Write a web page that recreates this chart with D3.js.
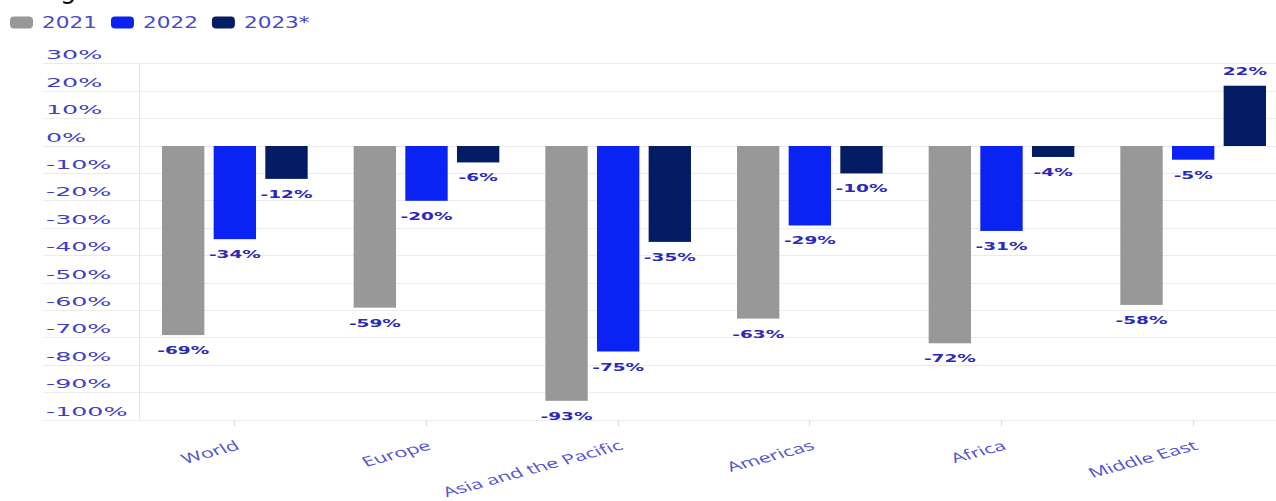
<!DOCTYPE html>
<html>
<head>
<meta charset="utf-8">
<script src="https://cdn.jsdelivr.net/npm/d3@7"></script>
<style>
  html, body { margin: 0; padding: 0; background: #ffffff; }
  svg { display: block; }
</style>
</head>
<body>
<div id="chart"></div>
<script>
// values
var regions = ["World", "Europe", "Asia and the Pacific", "Americas", "Africa", "Middle East"];
var years = ["2021", "2022", "2023*"];
var v2021 = [-69, -59, -93, -63, -72, -58];
var v2022 = [-34, -20, -75, -29, -31, -5];
var v2023 = [-12, -6, -35, -10, -4, 22];
var yTicks = [30, 20, 10, 0, -10, -20, -30, -40, -50, -60, -70, -80, -90, -100];

var cols = {"2021": "#989898", "2022": "#0a22f2", "2023*": "#031c64"};
var series = {"2021": v2021, "2022": v2022, "2023*": v2023};

var W = 1276, H = 501;
var svg = d3.select("#chart").append("svg").attr("width", W).attr("height", H);

// the source picture is squashed vertically, so text gets a horizontal stretch
function stretched(g, x, y, sx, rot){
	return g.append("text")
		.attr("transform", "translate(" + x + "," + y + ") scale(" + sx + ",1)" + (rot ? " rotate(" + rot + ")" : ""));
}

// cropped title remnant at the very top
svg.append("text").attr("x", 60).attr("y", -2).text("g")
	.style("font-family", "DejaVu Sans").style("font-size", "26px").style("fill", "#111");

var x0 = d3.scaleBand().domain(regions).range([139, 1289]).paddingInner(0.24).paddingOuter(0.12);
var x1 = d3.scaleBand().domain(years).range([0, x0.bandwidth()]).paddingInner(0.18);
var y = d3.scaleLinear().domain([-100, 30]).range([420, 63.8]);

//grid lines
svg.selectAll("line.grid").data(yTicks).enter().append("line").classed("grid", true)
	.attr("x1", 43).attr("x2", W)
	.attr("y1", function(d){ return y(d); }).attr("y2", function(d){ return y(d); })
	.attr("stroke", "#ebebeb").attr("stroke-width", 1)
	.style("shape-rendering", "crispEdges");

svg.append("line").attr("x1", 139).attr("x2", 139).attr("y1", y(30)).attr("y2", y(-100))
	.attr("stroke", "#e4e4e4").style("shape-rendering", "crispEdges");

//category ticks
svg.selectAll("line.xtick").data(regions).enter().append("line").classed("xtick", true)
	.attr("x1", function(d){ return x0(d) + x0.bandwidth() / 2; })
	.attr("x2", function(d){ return x0(d) + x0.bandwidth() / 2; })
	.attr("y1", y(-100)).attr("y2", y(-100) + 6)
	.attr("stroke", "#dddddd").style("shape-rendering", "crispEdges");

//y tick labels
var yl = svg.append("g");
yTicks.forEach(function(t){
	stretched(yl, 46, y(t) - 4.5, 1.95)
		.text(t + "%")
		.style("font-family", "DejaVu Sans").style("font-size", "13px")
		.style("fill", "#3e3ec4");
});

//bars
var groups = svg.selectAll("g.region").data(regions).enter().append("g").classed("region", true)
	.attr("transform", function(d){ return "translate(" + x0(d) + ",0)"; });

var bars = groups.selectAll("rect").data(function(d, i){
	return years.map(function(yr){ return {year: yr, value: series[yr][i]}; });
}).enter().append("rect")
	.attr("x", function(d){ return x1(d.year); })
	.attr("width", x1.bandwidth())
	.attr("y", function(d){ return y(Math.max(0, d.value)); })
	.attr("height", function(d){ return Math.abs(y(d.value) - y(0)); })
	.attr("fill", function(d){ return cols[d.year]; });

//value labels
groups.each(function(r, i){
	var g = d3.select(this);
	years.forEach(function(yr){
		var v = series[yr][i];
		var cx = x1(yr) + x1.bandwidth() / 2;
		var ty = v >= 0 ? y(v) - 10.5 : y(v) + 19;
		stretched(g, cx, ty, 1.85)
			.attr("text-anchor", "middle")
			.text(v + "%")
			.style("font-family", "DejaVu Sans").style("font-weight", "bold").style("font-size", "10px")
			.style("fill", "#2a2ab8");
	});
});

//category labels
var xl = svg.append("g");
regions.forEach(function(r){
	stretched(xl, x0(r) + x0.bandwidth() / 2 + 6, 449, 1.6, -23.5)
		.attr("text-anchor", "end")
		.text(r)
		.style("font-family", "Open Sans").style("font-size", "13.5px")
		.style("fill", "#5252d2");
});

//legend
var lg = svg.append("g");
var lx = 10;
years.forEach(function(yr){
	lg.append("rect").attr("x", lx).attr("y", 16.5).attr("width", 23).attr("height", 12).attr("rx", 4)
		.attr("fill", cols[yr]);
	var t = stretched(lg, lx + 32, 28.3, 1.35)
		.text(yr)
		.style("font-family", "DejaVu Sans").style("font-size", "16px")
		.style("fill", "#4848cc");
	lx = lx + 32 + t.node().getComputedTextLength() * 1.35 + 14;
});
</script>
</body>
</html>
